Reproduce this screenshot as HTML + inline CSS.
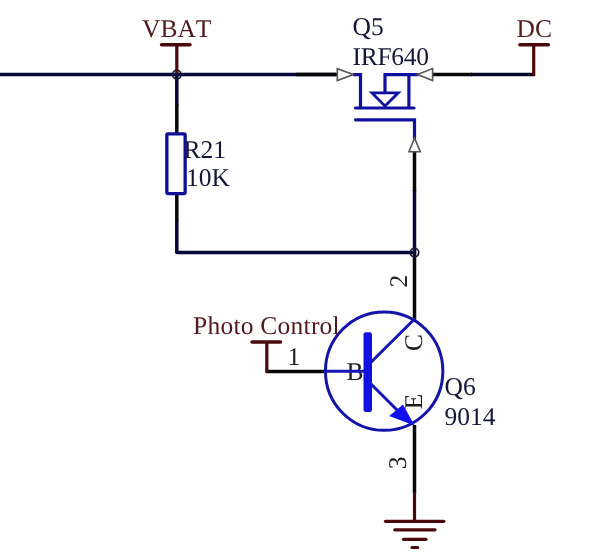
<!DOCTYPE html>
<html>
<head>
<meta charset="utf-8">
<title>Circuit</title>
<style>
html,body{margin:0;padding:0;background:#fff;}
body{width:600px;height:555px;overflow:hidden;}
svg{display:block;will-change:transform;}
text{font-family:"Liberation Serif",serif;font-size:25.5px;font-kerning:none;text-rendering:geometricPrecision;}
.net{fill:#521a1c;}
.cmp{fill:#16163a;}
.pin{fill:#1c1c1c;}
</style>
</head>
<body>
<svg width="600" height="555" viewBox="0 0 600 555">
<rect width="600" height="555" fill="#ffffff"/>

<!-- wires navy -->
<g stroke="#07073a" stroke-width="3.5" fill="none" stroke-linecap="butt">
  <line x1="0" y1="74.6" x2="336" y2="74.6"/>
  <line x1="176.8" y1="74.6" x2="176.8" y2="106"/>
  <polyline points="176.8,220 176.8,252.6 414.5,252.6 414.5,190" stroke-linejoin="round"/>
  <line x1="471" y1="74.6" x2="535" y2="74.6" stroke="#050524"/>
</g>
<!-- wires black -->
<g stroke="#080808" stroke-width="3.5" fill="none">
  <line x1="176.8" y1="104.5" x2="176.8" y2="133"/>
  <line x1="176.8" y1="194" x2="176.8" y2="221"/>
  <line x1="296" y1="74.6" x2="337" y2="74.6"/>
  <line x1="432" y1="74.6" x2="472" y2="74.6"/>
  <line x1="414.5" y1="152" x2="414.5" y2="191"/>
  <line x1="414.5" y1="252.6" x2="414.5" y2="320"/>
  <line x1="414.5" y1="425" x2="414.5" y2="493"/>
  <line x1="266" y1="371.4" x2="325" y2="371.4"/>
</g>

<!-- junctions -->
<g stroke="#12123e" stroke-width="1.6" fill="rgba(20,20,70,0.15)">
  <circle cx="176.8" cy="74.6" r="4.3"/>
  <circle cx="414.5" cy="252.6" r="4.3"/>
</g>

<!-- power ports maroon -->
<g stroke="#4c090b" stroke-width="3.2" fill="none">
  <line x1="161.5" y1="44.7" x2="190" y2="44.7" stroke-linecap="round" stroke-width="3.4"/>
  <line x1="176.8" y1="44.7" x2="176.8" y2="73"/>
  <line x1="519.8" y1="44.8" x2="548.4" y2="44.8" stroke-linecap="round" stroke-width="3.4"/>
  <line x1="533.7" y1="45" x2="533.7" y2="75.9"/>
  <line x1="252" y1="342" x2="280.5" y2="342" stroke-linecap="round" stroke-width="3.4"/>
  <line x1="266.8" y1="342" x2="266.8" y2="372.9"/>
  <!-- ground -->
  <line x1="414.5" y1="492" x2="414.5" y2="521.3"/>
  <line x1="385.5" y1="521.3" x2="443.8" y2="521.3" stroke-linecap="round"/>
  <line x1="394.8" y1="529.8" x2="435" y2="529.8" stroke-linecap="round"/>
  <line x1="403.5" y1="539.3" x2="426" y2="539.3" stroke-linecap="round"/>
  <line x1="412" y1="547.5" x2="417.7" y2="547.5" stroke-linecap="round"/>
</g>

<!-- resistor -->
<rect x="166.85" y="133.85" width="18.3" height="59.7" rx="1.2" fill="#fff" stroke="#0e0e98" stroke-width="3.3"/>

<!-- MOSFET -->
<g stroke="#1010a0" stroke-width="3.2" fill="none" stroke-linecap="butt">
  <polyline points="353,74.6 360.5,74.6 360.5,108"/>
  <line x1="355.5" y1="108" x2="414" y2="108" stroke-linecap="round"/>
  <polyline points="385,92.5 385,74.6 418.5,74.6"/>
  <line x1="408.9" y1="74.6" x2="408.9" y2="108"/>
  <polygon points="371.8,92.8 398.3,92.8 385,106" stroke-linejoin="miter" stroke-width="2.7"/>
  <polyline points="355.5,119.8 414.5,119.8 414.5,138.6" stroke-linecap="round"/>
</g>
<!-- pin arrows -->
<g stroke="#555" stroke-width="1.6" fill="#fff" stroke-linejoin="miter">
  <polygon points="337.3,68.7 337.3,80.5 353.3,74.6"/>
  <polygon points="432.6,68.6 432.6,80.6 417.5,74.6"/>
  <polygon points="409,151.8 420.3,151.8 414.6,138.2"/>
</g>

<!-- transistor -->
<text class="pin" x="346.6" y="379.9">B</text>
<ellipse cx="384.15" cy="371.15" rx="58.7" ry="59.2" fill="none" stroke="#1414a8" stroke-width="3"/>
<g stroke="#1414b8" stroke-width="3" fill="none">
  <line x1="325" y1="371.3" x2="367" y2="371.3"/>
  <line x1="369" y1="364.3" x2="414.8" y2="318.8"/>
  <line x1="368" y1="381" x2="400" y2="413"/>
</g>
<rect x="363.5" y="332.3" width="8.5" height="79.6" rx="2.2" fill="#1212e0"/>
<polygon points="389.2,415.9 403,404.6 414.5,425.6" fill="#1010ee"/>

<!-- text -->
<text class="net" x="142" y="37.2">VBAT</text>
<text class="net" x="516.5" y="37.1">DC</text>
<text class="net" x="193" y="334" style="font-size:25.5px;letter-spacing:0.24px">Photo Control</text>
<text class="cmp" x="352.5" y="34.6">Q5</text>
<text class="cmp" x="352.5" y="64.9" style="letter-spacing:-0.3px">IRF640</text>
<text class="cmp" x="183.5" y="157.6">R21</text>
<text class="cmp" x="185.9" y="186.4">10K</text>
<text class="cmp" x="444.5" y="394.5">Q6</text>
<text class="cmp" x="444.5" y="425">9014</text>
<text class="pin" x="287.5" y="364.6">1</text>
<text class="pin" transform="translate(406.5,287.5) rotate(-90)">2</text>
<text class="pin" transform="translate(406,469.3) rotate(-90)">3</text>
<text class="pin" transform="translate(422,351) rotate(-90)">C</text>
<text class="pin" transform="translate(422,409.3) rotate(-90)">E</text>
</svg>
</body>
</html>
